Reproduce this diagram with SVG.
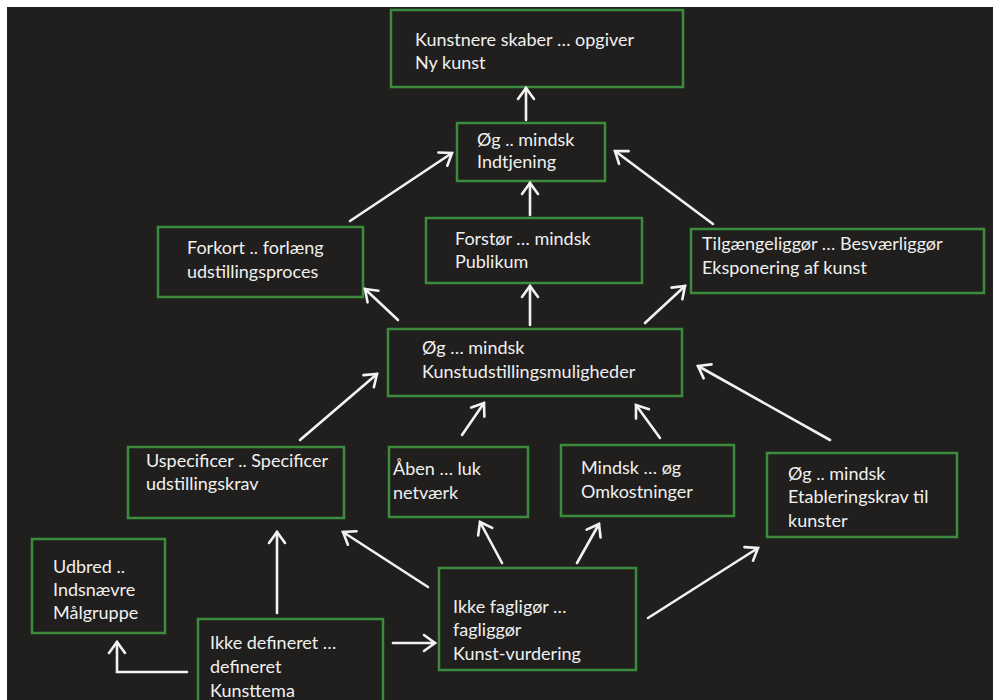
<svg xmlns="http://www.w3.org/2000/svg" width="993" height="700" viewBox="0 0 993 700">
  <defs>
    <marker id="arrow" markerUnits="userSpaceOnUse" markerWidth="24" markerHeight="24" viewBox="-14 -12 16 24" refX="0" refY="0" orient="auto">
      <path d="M-11,-8 L0,0 L-11,8" fill="none" stroke="#f2f2f2" stroke-width="2.6" stroke-linecap="round" stroke-linejoin="miter"/>
    </marker>
    <style>
      .box { fill: #201f1d; stroke: #3b8c3f; stroke-width: 2.5; }
      .lbl { font-family: Lato, "Open Sans", "Liberation Sans", sans-serif; font-size: 18px; fill: #f0f0f0; }
      .edge { fill: none; stroke: #f2f2f2; stroke-width: 2.6; stroke-linecap: round; marker-end: url(#arrow); }
    </style>
  </defs>

  <!-- page and canvas -->
  <rect x="0" y="0" width="993" height="700" fill="#ffffff"/>
  <rect x="7" y="7" width="986" height="693" fill="#201f1d"/>

  <!-- nodes -->
  <g id="node-ny-kunst">
    <rect class="box" x="391" y="10" width="292" height="77"/>
    <text class="lbl" x="415" y="46">Kunstnere skaber … opgiver</text>
    <text class="lbl" x="415" y="69">Ny kunst</text>
  </g>

  <g id="node-indtjening">
    <rect class="box" x="457" y="123" width="148" height="58"/>
    <text class="lbl" x="477" y="146">Øg .. mindsk</text>
    <text class="lbl" x="477" y="168">Indtjening</text>
  </g>

  <g id="node-udstillingsproces">
    <rect class="box" x="158" y="227" width="205" height="70"/>
    <text class="lbl" x="187" y="254">Forkort .. forlæng</text>
    <text class="lbl" x="187" y="278">udstillingsproces</text>
  </g>

  <g id="node-publikum">
    <rect class="box" x="426" y="218" width="216" height="65"/>
    <text class="lbl" x="455" y="245">Forstør … mindsk</text>
    <text class="lbl" x="455" y="268">Publikum</text>
  </g>

  <g id="node-eksponering">
    <rect class="box" x="691" y="229" width="293" height="64"/>
    <text class="lbl" x="702" y="250">Tilgængeliggør … Besværliggør</text>
    <text class="lbl" x="702" y="274">Eksponering af kunst</text>
  </g>

  <g id="node-kunstudstillingsmuligheder">
    <rect class="box" x="388" y="329" width="294" height="67"/>
    <text class="lbl" x="422" y="354">Øg … mindsk</text>
    <text class="lbl" x="422" y="378">Kunstudstillingsmuligheder</text>
  </g>

  <g id="node-udstillingskrav">
    <rect class="box" x="128" y="447" width="216" height="71"/>
    <text class="lbl" x="146" y="467">Uspecificer .. Specificer</text>
    <text class="lbl" x="146" y="490">udstillingskrav</text>
  </g>

  <g id="node-netvaerk">
    <rect class="box" x="389" y="447" width="139" height="70"/>
    <text class="lbl" x="393" y="475">Åben … luk</text>
    <text class="lbl" x="393" y="499">netværk</text>
  </g>

  <g id="node-omkostninger">
    <rect class="box" x="561" y="445" width="173" height="71"/>
    <text class="lbl" x="581" y="474">Mindsk … øg</text>
    <text class="lbl" x="581" y="498">Omkostninger</text>
  </g>

  <g id="node-etableringskrav">
    <rect class="box" x="767" y="453" width="190" height="84"/>
    <text class="lbl" x="788" y="480">Øg .. mindsk</text>
    <text class="lbl" x="788" y="503">Etableringskrav til</text>
    <text class="lbl" x="788" y="527">kunster</text>
  </g>

  <g id="node-maalgruppe">
    <rect class="box" x="32" y="539" width="133" height="94"/>
    <text class="lbl" x="53" y="573">Udbred ..</text>
    <text class="lbl" x="53" y="596">Indsnævre</text>
    <text class="lbl" x="53" y="619">Målgruppe</text>
  </g>

  <g id="node-kunsttema">
    <rect class="box" x="198" y="619" width="185" height="90"/>
    <text class="lbl" x="210" y="649">Ikke defineret …</text>
    <text class="lbl" x="210" y="673">defineret</text>
    <text class="lbl" x="210" y="697">Kunsttema</text>
  </g>

  <g id="node-kunstvurdering">
    <rect class="box" x="439" y="568" width="197" height="102"/>
    <text class="lbl" x="453" y="613">Ikke fagligør …</text>
    <text class="lbl" x="453" y="636">fagliggør</text>
    <text class="lbl" x="453" y="660">Kunst-vurdering</text>
  </g>

  <!-- connectors -->
  <g id="connectors">
    <line class="edge" x1="526" y1="120" x2="526" y2="88"/>
    <line class="edge" x1="350" y1="221" x2="452" y2="153"/>
    <line class="edge" x1="713" y1="224" x2="615" y2="151"/>
    <line class="edge" x1="530" y1="215" x2="530" y2="183"/>
    <line class="edge" x1="530" y1="325" x2="530" y2="286"/>
    <line class="edge" x1="398" y1="320" x2="365" y2="289"/>
    <line class="edge" x1="645" y1="323" x2="685" y2="286"/>
    <line class="edge" x1="300" y1="440" x2="377" y2="374"/>
    <line class="edge" x1="462" y1="435" x2="484" y2="403"/>
    <line class="edge" x1="660" y1="438" x2="636" y2="405"/>
    <line class="edge" x1="830" y1="440" x2="698" y2="366"/>
    <line class="edge" x1="277" y1="613" x2="277" y2="532"/>
    <polyline class="edge" points="187,672 117,672 117,642"/>
    <line class="edge" x1="393" y1="643" x2="435" y2="643"/>
    <line class="edge" x1="428" y1="587" x2="343" y2="532"/>
    <line class="edge" x1="502" y1="563" x2="480" y2="522"/>
    <line class="edge" x1="577" y1="563" x2="599" y2="524"/>
    <line class="edge" x1="648" y1="618" x2="758" y2="548"/>
  </g>
</svg>
